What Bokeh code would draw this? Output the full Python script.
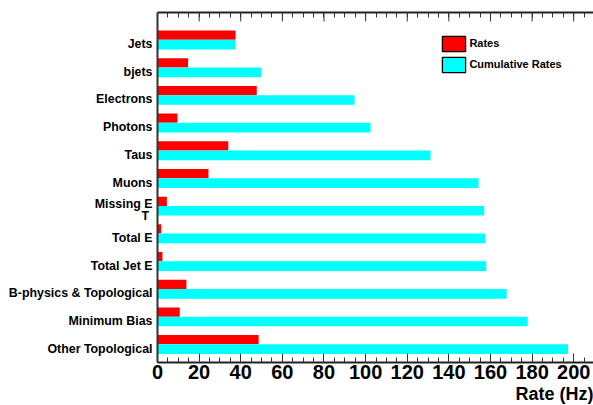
from bokeh.plotting import figure
from bokeh.models import (Range1d, LinearAxis, FixedTicker, Legend, LegendItem, Title)
from bokeh.embed import file_html
from bokeh.resources import INLINE

# ---- data ----
categories = ["Jets", "bjets", "Electrons", "Photons", "Taus", "Muons",
              "Missing E\nT\u00a0", "Total E", "Total Jet E", "B-physics & Topological",
              "Minimum Bias", "Other Topological"]
rates = [37.5, 14.7, 47.7, 9.6, 34.0, 24.5, 4.5, 1.8, 2.4, 13.9, 10.7, 48.6]
cumulative = [37.5, 49.8, 94.7, 102.4, 131.2, 154.3, 157.0, 157.5, 158.0,
              167.8, 177.9, 197.3]
x_ticks = [0, 20, 40, 60, 80, 100, 120, 140, 160, 180, 200]
series_names = ["Rates", "Cumulative Rates"]
colors = ["#ff0000", "#00ffff"]
x_title = "Rate (Hz)"

FONT = "Liberation Sans"
n = len(categories)
idx = list(range(n))
red_y = [i - 0.3225 for i in idx]
cyan_y = [i + 0.02 for i in idx]
Y_TOP = -1.14
Y_BOTTOM = 11.5

p = figure(width=593, height=405, output_backend="svg", toolbar_location=None,
           x_range=Range1d(0, 209.5), y_range=Range1d(Y_BOTTOM, Y_TOP),
           min_border_left=157, min_border_top=12, min_border_bottom=43,
           min_border_right=0)
p.xgrid.visible = False
p.ygrid.visible = False
p.outline_line_color = None
p.background_fill_color = "white"
p.border_fill_color = "white"

p.hbar(y=red_y, left=0, right=rates, height=0.335, fill_color=colors[0], line_color=None)
p.hbar(y=cyan_y, left=0, right=cumulative, height=0.35, fill_color=colors[1], line_color=None)

# legend renderers (same data, hidden; only their legend swatches show)
leg_r = p.hbar(y=red_y, left=0, right=rates, height=0.335, fill_color=colors[0],
               line_color="black", line_width=1.3, visible=False)
leg_c = p.hbar(y=cyan_y, left=0, right=cumulative, height=0.35, fill_color=colors[1],
               line_color="black", line_width=1.3, visible=False)
legend = Legend(items=[LegendItem(label=series_names[0], renderers=[leg_r]),
                       LegendItem(label=series_names[1], renderers=[leg_c])],
                location=(282.4, 288.2), padding=0, margin=0, spacing=2,
                glyph_width=29, glyph_height=19, label_height=19, label_standoff=1,
                border_line_color=None, background_fill_alpha=0,
                inactive_fill_alpha=0,
                label_text_font=FONT, label_text_font_size="11px",
                label_text_font_style="bold", label_text_color="black")
p.add_layout(legend)

minor = [v for v in range(0, 211, 5) if v % 20 != 0]
xa = p.xaxis[0]
xa.ticker = FixedTicker(ticks=x_ticks, minor_ticks=minor)
xa.major_tick_in = 9
xa.major_tick_out = 0
xa.minor_tick_in = 5
xa.minor_tick_out = 0
xa.major_tick_line_color = "#333333"
xa.minor_tick_line_color = "#333333"
xa.axis_line_width = 2
xa.axis_line_color = "#222222"
xa.major_label_standoff = 2
xa.major_label_text_font = FONT
xa.major_label_text_font_size = "20px"
xa.major_label_text_font_style = "bold"
xa.major_label_text_color = "black"

# top axis: all ticks as short ticks, long ones at the labelled values added below
top = LinearAxis(ticker=FixedTicker(ticks=[], minor_ticks=list(range(0, 211, 5))),
                 major_tick_in=0, major_tick_out=0, minor_tick_in=5, minor_tick_out=0,
                 minor_tick_line_color="#333333",
                 axis_line_width=2, axis_line_color="#222222")
p.add_layout(top, "above")
tick_len = 9 * (Y_BOTTOM - Y_TOP) / 350
p.segment(x0=x_ticks, x1=x_ticks, y0=[Y_TOP] * len(x_ticks),
          y1=[Y_TOP + tick_len] * len(x_ticks), line_color="#333333", line_width=1)

ya = p.yaxis[0]
ya.ticker = FixedTicker(ticks=idx, minor_ticks=[])
ya.major_label_overrides = {i: c for i, c in zip(idx, categories)}
ya.major_tick_in = 0
ya.major_tick_out = 0
ya.minor_tick_in = 0
ya.minor_tick_out = 0
ya.major_tick_line_color = None
ya.axis_line_width = 2
ya.axis_line_color = "#333333"
ya.major_label_standoff = 5
ya.major_label_text_font = FONT
ya.major_label_text_font_size = "12.4px"
ya.major_label_text_font_style = "bold"
ya.major_label_text_color = "black"
ya.major_label_text_line_height = 0.85

p.add_layout(Title(text=x_title, align="right", text_font=FONT, text_font_size="18px",
                   text_font_style="bold", text_color="black", standoff=0, offset=0),
             "below")

open("out.html", "w").write(file_html(p, INLINE))
